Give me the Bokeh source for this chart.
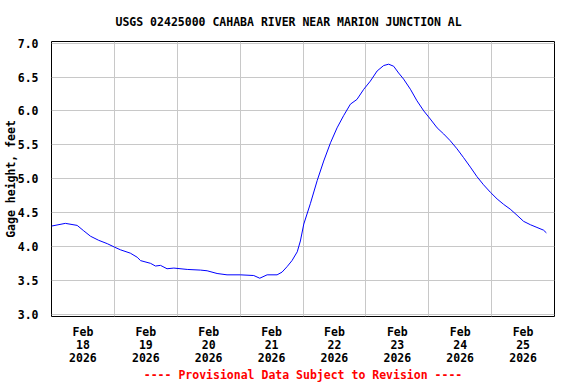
import pandas as pd
from bokeh.plotting import figure
from bokeh.models import FixedTicker, Range1d, PrintfTickFormatter, Title
from bokeh.embed import file_html
from bokeh.resources import INLINE

# ---------------- data ----------------
title_text = "USGS 02425000 CAHABA RIVER NEAR MARION JUNCTION AL"
y_label_text = "Gage height, feet"
footer_text = "---- Provisional Data Subject to Revision ----"

start_time = "2026-02-18 00:00"
n_days = 8
month_label = "Feb"
year_label = "2026"
day_labels = ["18", "19", "20", "21", "22", "23", "24", "25"]
y_ticks = [3.0, 3.5, 4.0, 4.5, 5.0, 5.5, 6.0, 6.5, 7.0]

hours_since_start = [
    0.0, 5.3, 9.8, 12.3, 14.9, 18.0, 21.3, 24.0, 26.3, 30.1, 32.7, 34.0,
    37.8, 39.7, 41.6, 44.1, 46.7, 51.8, 56.9, 59.4, 63.2, 67.0, 72.1, 77.2,
    79.5, 82.3, 86.1, 88.0, 89.9, 91.8, 93.8, 95.0, 96.3, 98.8, 101.4, 103.9,
    106.5, 109.0, 111.5, 114.1, 116.6, 119.2, 121.7, 124.3, 126.8, 128.7,
    130.6, 132.5, 134.4, 137.0, 139.5, 142.1, 144.6, 147.2, 149.7, 152.2,
    154.8, 157.3, 159.9, 162.4, 164.9, 167.5, 170.1, 172.6, 175.1, 177.7,
    180.2, 182.8, 185.3, 187.8, 188.9,
]
gage_height_ft = [
    4.30, 4.34, 4.31, 4.23, 4.15, 4.09, 4.04, 3.99, 3.95, 3.90, 3.84, 3.79,
    3.75, 3.71, 3.72, 3.67, 3.68, 3.66, 3.65, 3.64, 3.60, 3.58, 3.58, 3.57,
    3.53, 3.58, 3.58, 3.62, 3.70, 3.79, 3.92, 4.08, 4.33, 4.63, 4.97, 5.26,
    5.53, 5.75, 5.93, 6.10, 6.17, 6.32, 6.44, 6.59, 6.67, 6.69,
    6.66, 6.56, 6.47, 6.32, 6.15, 6.00, 5.88, 5.75, 5.66, 5.56,
    5.44, 5.31, 5.17, 5.03, 4.91, 4.80, 4.70, 4.62, 4.55, 4.46,
    4.37, 4.32, 4.28, 4.24, 4.20,
]

# ---------------- derived ----------------
t0 = pd.Timestamp(start_time)
times = [t0 + pd.Timedelta(hours=h) for h in hours_since_start]


def ms(ts):
    return int(ts.timestamp() * 1000)


label_ticks = [ms(t0 + pd.Timedelta(days=i, hours=12)) for i in range(n_days)]
grid_ticks = [ms(t0 + pd.Timedelta(days=i)) for i in range(n_days + 1)]
overrides = {tk: f"{month_label}\n{d}\n{year_label}" for tk, d in zip(label_ticks, day_labels)}

FONT = "DejaVu Sans Mono"
FS = "11.5px"

p = figure(
    width=576, height=384,
    x_axis_type="datetime",
    x_range=Range1d(t0, t0 + pd.Timedelta(days=n_days)),
    y_range=Range1d(2.965, 7.025),
    output_backend="svg", toolbar_location=None,
    min_border_left=51, min_border_right=22,
    min_border_top=40, min_border_bottom=68,
    background_fill_color="white", border_fill_color="white",
)

p.line(times, gage_height_ft, line_color="#0000ff", line_width=1)

# axes
p.xaxis.ticker = FixedTicker(ticks=label_ticks)
p.xaxis.major_label_overrides = overrides
p.yaxis.ticker = FixedTicker(ticks=y_ticks)
p.yaxis.formatter = PrintfTickFormatter(format="%.1f")
for ax in (p.xaxis[0], p.yaxis[0]):
    ax.axis_line_color = None
    ax.major_tick_line_color = None
    ax.minor_tick_line_color = None
    ax.major_tick_out = 0
    ax.major_tick_in = 0
    ax.minor_tick_out = 0
    ax.minor_tick_in = 0
    ax.major_label_text_font = FONT
    ax.major_label_text_font_style = "bold"
    ax.major_label_text_font_size = FS
    ax.major_label_text_color = "black"
p.xaxis.major_label_standoff = 8
p.yaxis.major_label_standoff = 13
p.xaxis.major_label_text_line_height = 0.93

p.yaxis.axis_label = y_label_text
p.yaxis.axis_label_text_font = FONT
p.yaxis.axis_label_text_font_style = "bold"
p.yaxis.axis_label_text_font_size = FS
p.yaxis.axis_label_text_color = "black"
p.yaxis.axis_label_standoff = -3

# grids
p.xgrid.ticker = FixedTicker(ticks=grid_ticks)
p.ygrid.ticker = FixedTicker(ticks=y_ticks)
for g in (p.xgrid[0], p.ygrid[0]):
    g.grid_line_color = "#c8c8c8"
    g.grid_line_width = 1

p.outline_line_color = "black"
p.outline_line_width = 1

# title and footer
p.add_layout(Title(text=title_text, align="left", offset=64, standoff=25,
                   text_font=FONT, text_font_style="bold", text_font_size=FS,
                   text_color="black"), "above")
p.add_layout(Title(text=footer_text, align="center", standoff=-3,
                   text_font=FONT, text_font_style="bold", text_font_size=FS,
                   text_color="#ff0000"), "below")

open("out.html", "w").write(file_html(p, INLINE))
